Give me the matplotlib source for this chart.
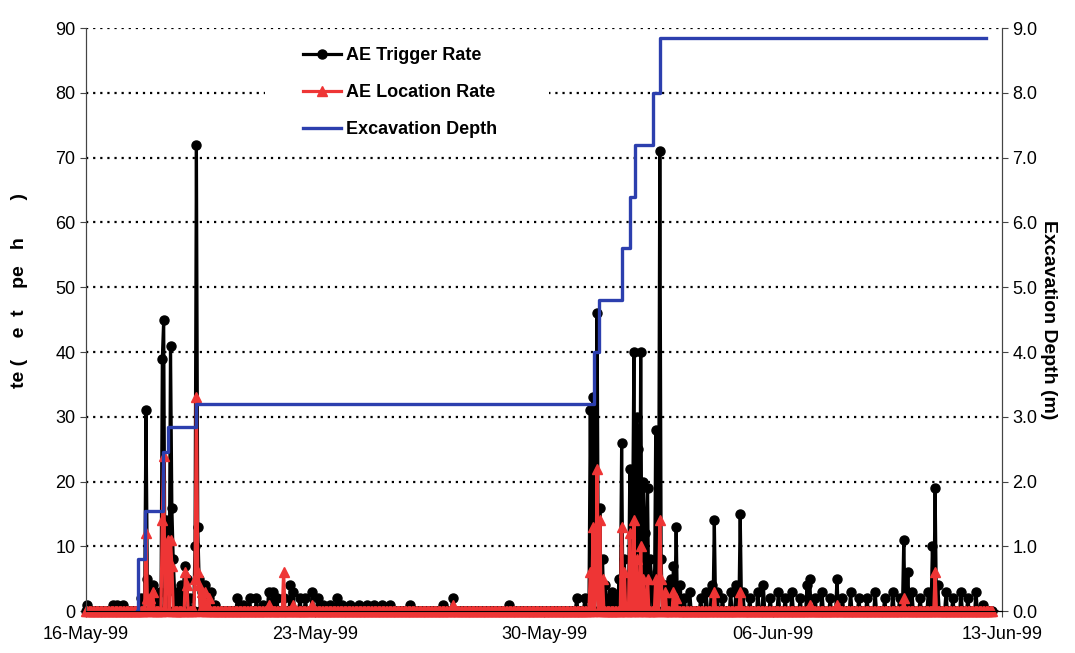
import numpy as np
import pandas as pd
import matplotlib.pyplot as plt
import matplotlib.dates as mdates
from matplotlib.patches import Rectangle
from matplotlib.ticker import FormatStrFormatter

start = pd.Timestamp("1999-05-16")
n_hours = 666

# AE trigger rate (events per hour), hour index from 16-May-99 00:00
trig_hour = [1, 20, 23, 27, 40, 44, 45, 47, 49, 51, 54, 56, 57, 59, 60, 62, 63, 64,
             65, 68, 70, 73, 74, 76, 80, 81, 82, 83, 85, 87, 90, 92, 95,
             111, 115, 120, 125, 130, 134, 137, 140, 145, 150, 152, 157, 161, 166,
             170, 174, 179, 184, 188, 194, 200, 206, 211, 217, 223, 238, 262, 269,
             310, 360,
             366, 370, 372, 374, 375, 377, 379, 381, 383, 386, 389, 391, 393, 395,
             397, 399, 401, 402, 404, 405, 407, 409, 410, 412, 414, 415, 418, 419,
             421, 422, 425, 427, 429, 431, 433, 436, 439, 443, 451, 455, 459, 461,
             463, 467, 473, 477, 480, 482, 487, 493, 497, 502, 508, 513, 518, 524,
             529, 531, 535, 540, 546, 551, 555, 561, 567, 573, 579, 586, 592, 597,
             600, 603, 606, 612, 618, 621, 623, 625, 631, 636, 642, 647, 653, 658]
trig_rate = [1, 1, 1, 1, 2, 31, 5, 3, 4, 2, 3, 39, 45, 14, 12, 41, 16, 8,
             3, 2, 4, 7, 5, 2, 10, 72, 13, 5, 3, 4, 2, 3, 1,
             2, 1, 2, 2, 1, 3, 3, 2, 2, 4, 3, 2, 2, 3,
             2, 1, 1, 2, 1, 1, 1, 1, 1, 1, 1, 1, 1, 2,
             1, 2,
             2, 31, 33, 8, 46, 16, 8, 4, 2, 3, 2, 5, 26, 8,
             5, 22, 12, 40, 30, 25, 40, 20, 12, 19, 8, 5, 28, 6,
             71, 8, 4, 3, 5, 7, 13, 4, 2, 3, 2, 3, 4, 14,
             3, 2, 3, 4, 15, 3, 2, 3, 4, 2, 3, 2, 3, 2,
             4, 5, 2, 3, 2, 5, 2, 3, 2, 2, 3, 2, 3, 2,
             11, 6, 3, 2, 3, 10, 19, 4, 3, 2, 3, 2, 3, 1]

# AE location rate (events per hour)
loc_hour = [44, 45, 47, 49, 56, 57, 59, 60, 62, 63, 73, 74, 80, 81, 82, 83, 85, 87, 90,
            134, 145, 152, 166, 269,
            370, 372, 374, 375, 377, 379, 393, 395, 399, 402, 404, 407, 409, 412,
            418, 421, 422, 425, 431, 433, 461, 480, 531, 551, 600, 623]
loc_rate = [12, 2, 2, 3, 14, 24, 8, 11, 11, 7, 6, 4, 5, 33, 6, 4, 3, 3, 2,
            1, 6, 1, 1, 1,
            6, 13, 3, 22, 14, 5, 13, 6, 12, 14, 8, 10, 5, 5,
            5, 14, 5, 3, 3, 2, 3, 3, 1, 1, 2, 6]

# Excavation depth (m), day offset from 16-May-99
depth_day = [1.55, 1.59, 1.80, 2.35, 2.51, 3.36, 15.53, 15.69, 16.39, 16.64, 16.79,
             17.34, 17.55, 27.5]
depth_m = [0.0, 0.8, 1.55, 2.45, 2.85, 3.2, 4.0, 4.8, 5.6, 6.4, 7.2, 8.0, 8.85, 8.85]

trigger = np.zeros(n_hours)
trigger[trig_hour] = trig_rate
location = np.zeros(n_hours)
location[loc_hour] = loc_rate
times = start + pd.to_timedelta(np.arange(n_hours), unit="h")
depth_times = start + pd.to_timedelta(depth_day, unit="D")

plt.rcParams["font.family"] = "Liberation Sans"

fig, ax = plt.subplots(figsize=(10.75, 6.53), dpi=100)
fig.subplots_adjust(left=0.080, right=0.932, bottom=0.064, top=0.957)

ax.plot(times, trigger, color="black", lw=2.3, marker="o", ms=6.5,
        label="AE Trigger Rate", zorder=3, clip_on=False)
ax.plot(times, location, color="#ee3535", lw=2.3, marker="^", ms=6.5,
        label="AE Location Rate", zorder=4, clip_on=False)

ax2 = ax.twinx()
ax2.step(depth_times, depth_m, where="post", color="#2c3fae", lw=2.4,
         label="Excavation Depth")

ax.set_ylim(0, 90)
ax.set_yticks(range(0, 91, 10))
ax2.set_ylim(0, 9)
ax2.set_yticks(np.arange(0, 9.1, 1))
ax2.yaxis.set_major_formatter(FormatStrFormatter("%.1f"))
ax.set_xlim(start, pd.Timestamp("1999-06-13"))
ax.set_xticks(pd.date_range("1999-05-16", periods=5, freq="7D"))
ax.xaxis.set_major_formatter(mdates.DateFormatter("%d-%b-%y"))

ax.yaxis.grid(True, linestyle=(0, (1, 2.2)), color="black", lw=1.6)
for a in (ax, ax2):
    a.spines["top"].set_visible(False)
    a.spines["left"].set_color("#444444")
    a.spines["right"].set_color("#444444")
    a.tick_params(labelsize=13, length=4, direction="out", color="#444444")
ax.tick_params(axis="x", pad=7)

ax.add_patch(Rectangle((0.195, 0.79), 0.31, 0.2, transform=ax.transAxes,
                       facecolor="white", edgecolor="none", zorder=2))

h1, l1 = ax.get_legend_handles_labels()
h2, l2 = ax2.get_legend_handles_labels()
ax2.legend(h1 + h2, l1 + l2, loc="upper left", bbox_to_anchor=(0.229, 0.98),
           frameon=False, borderaxespad=0, prop={"weight": "bold", "size": 13},
           handlelength=2.1, handletextpad=0.3, labelspacing=1.12, numpoints=1)

ax.set_ylabel("te (    e  t    pe   h       )", fontsize=14, fontweight="bold")
ax.yaxis.set_label_coords(-0.063, 0.55)
ax2.set_ylabel("Excavation Depth (m)", fontsize=14, fontweight="bold",
               rotation=270, labelpad=14)

plt.savefig("out.png", dpi=100)
